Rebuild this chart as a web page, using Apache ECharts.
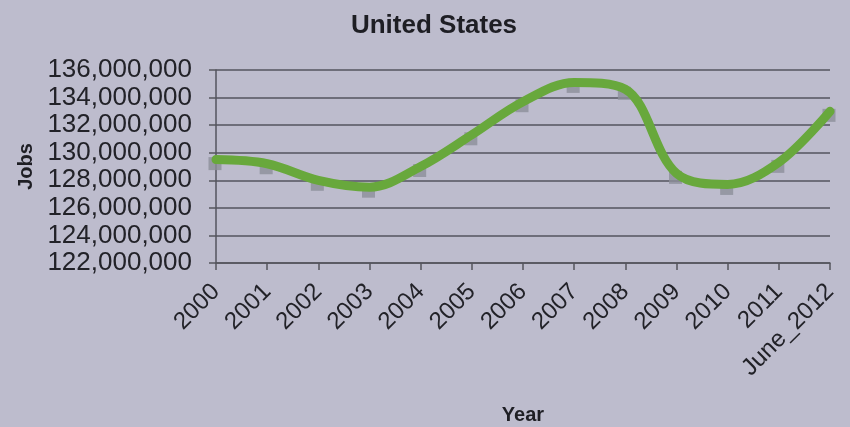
<!DOCTYPE html>
<html><head><meta charset="utf-8">
<script src="https://cdn.jsdelivr.net/npm/echarts@6/dist/echarts.min.js"></script>
<style>html,body{margin:0;padding:0;background:#bdbccd;}#c{width:850px;height:427px;}</style>
</head><body><div id="c"></div>
<script>
const categories = ['2000','2001','2002','2003','2004','2005','2006','2007','2008','2009','2010','2011','June_2012'];
const jobs = [129500000,129200000,128000000,127500000,129000000,131300000,133700000,135100000,134600000,128500000,127700000,129300000,133000000];
const yTicks = {min:122000000, max:136000000, interval:2000000};

const chart = echarts.init(document.getElementById('c'));
const font = '"Liberation Sans", Arial, sans-serif';
chart.setOption({
  backgroundColor: '#bdbccd',
  animation: false,
  title: {text:'United States', left: 429, top: 8, textAlign:'center',
    textStyle:{fontFamily:font, fontSize:26, fontWeight:'bold', color:'#1e1e24'}},
  grid: {left:216, right:20, top:70, bottom:164, containLabel:false, outerBoundsMode:'none'},
  xAxis: {type:'category', data:categories, boundaryGap:false,
    name:'Year', nameLocation:'middle', nameGap:142, nameMoveOverlap:false,
    nameTextStyle:{fontFamily:font, fontSize:20, fontWeight:'bold', color:'#1e1e24'},
    axisLine:{lineStyle:{color:'#55555e', width:1.5}},
    axisTick:{show:true, inside:false, length:7, alignWithLabel:true, lineStyle:{color:'#55555e', width:1.5}},
    axisLabel:{rotate:45, fontFamily:font, fontSize:24, color:'#222228', margin:25, interval:0}
  },
  yAxis: {type:'value', min:yTicks.min, max:yTicks.max, interval:yTicks.interval,
    name:'Jobs', nameLocation:'middle', nameGap:180, nameRotate:90, nameMoveOverlap:false,
    nameTextStyle:{fontFamily:font, fontSize:20, fontWeight:'bold', color:'#1e1e24'},
    axisLine:{show:true, lineStyle:{color:'#55555e', width:1.5}},
    axisTick:{show:true, length:7, lineStyle:{color:'#55555e', width:1.5}},
    splitLine:{lineStyle:{color:'#55555e', width:1.5}},
    axisLabel:{fontFamily:font, fontSize:26, color:'#222228', margin:24,
      formatter: v => v.toLocaleString('en-US')}
  },
  series: [
    {type:'scatter', data:jobs, symbol:'rect', symbolSize:13, symbolOffset:[-1,4],
      itemStyle:{color:'#8c8e9a'}, z:1},
    {type:'line', data:jobs, smooth:0.35, showSymbol:false,
      lineStyle:{color:'#68a83c', width:9, cap:'round', join:'round'}, z:2}
  ]
});
</script></body></html>
